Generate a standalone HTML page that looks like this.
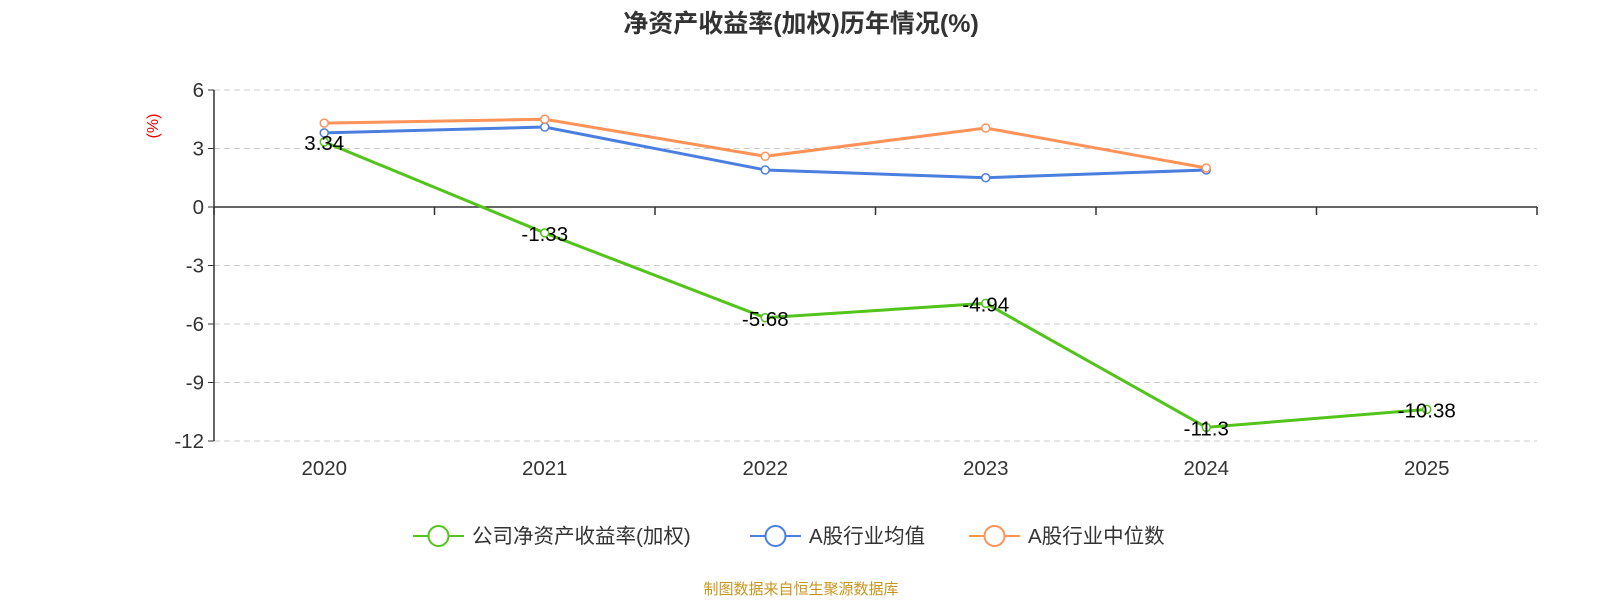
<!DOCTYPE html>
<html><head><meta charset="utf-8">
<style>
body{margin:0;background:#fff;width:1600px;height:600px;overflow:hidden;font-family:"Liberation Sans","Noto Sans CJK SC",sans-serif;}
</style></head>
<body>
<svg id="chart" width="1600" height="600" xmlns="http://www.w3.org/2000/svg" font-family="Liberation Sans, Noto Sans CJK SC, sans-serif">
<text x="801" y="32" text-anchor="middle" font-size="25" font-weight="bold" fill="#333">净资产收益率(加权)历年情况(%)</text>
<text transform="translate(158,126) rotate(-90)" text-anchor="middle" font-size="16" fill="#e00">(%)</text>
<g id="grid"></g><g id="axes"></g><g id="series"></g><g id="labels"></g>
<g id="legend"></g>
<text x="801" y="594" text-anchor="middle" font-size="15" fill="#c8961e">制图数据来自恒生聚源数据库</text>
</svg>
<script>
const categories=["2020","2021","2022","2023","2024","2025"];
const companyRoe=[3.34,-1.33,-5.68,-4.94,-11.3,-10.38];
const industryAvg=[3.8,4.1,1.9,1.5,1.9];
const industryMedian=[4.3,4.5,2.6,4.05,2.0];
const yTicks=[6,3,0,-3,-6,-9,-12];
const NS="http://www.w3.org/2000/svg";
const x0=214,x1=1537,yTop=90,yBot=441,yMax=6,yMin=-12;
const band=(x1-x0)/categories.length;
const xs=i=>x0+band*(i+0.5);
const ys=v=>yTop+(yMax-v)/(yMax-yMin)*(yBot-yTop);
function mk(tag,attrs,parent){const e=document.createElementNS(NS,tag);for(const k in attrs)e.setAttribute(k,attrs[k]);document.getElementById(parent).appendChild(e);return e;}
yTicks.forEach(t=>{
  if(t!==0){const g=mk('line',{x1:x0,x2:x1,y1:ys(t),y2:ys(t),stroke:'#ccc','stroke-dasharray':'6,4'},'grid');
  
  }
  const tk=mk('line',{x1:x0-6,x2:x0,y1:ys(t),y2:ys(t),stroke:'#333'},'axes');
  
  
  const tl=mk('text',{x:x0-10,y:ys(t)+7,'text-anchor':'end','font-size':20.5,fill:'#333'},'axes');
  tl.textContent=t;
  
  
});
const ya=mk('line',{x1:x0,x2:x0,y1:yTop,y2:yBot,stroke:'#333','stroke-width':1.5},'axes');


const xa=mk('line',{x1:x0,x2:x1,y1:ys(0),y2:ys(0),stroke:'#333','stroke-width':1.5},'axes');


for(let i=0;i<=categories.length;i++){const tk=mk('line',{x1:x0+band*i,x2:x0+band*i,y1:ys(0),y2:ys(0)+8,stroke:'#333','stroke-width':1.5},'axes');

}
categories.forEach((c,i)=>{const t=mk('text',{x:xs(i),y:475,'text-anchor':'middle','font-size':20.5,fill:'#333'},'axes');t.textContent=c;

});
function series(vals,color,name,labels){
  const p=mk('polyline',{points:vals.map((v,i)=>xs(i)+','+ys(v)).join(' '),fill:'none',stroke:color,'stroke-width':3},'series');
  
  
  vals.forEach((v,i)=>{const c=mk('circle',{cx:xs(i),cy:ys(v),r:4,fill:'#fff',stroke:color,'stroke-width':1.5},'series');
  
  
  if(labels){const t=mk('text',{x:xs(i),y:ys(v)+8,'text-anchor':'middle','font-size':20.5,fill:'#000'},'labels');t.textContent=v;
  
  }});
}
series(industryAvg,'#4a7fe0','industry-average',false);
series(industryMedian,'#ff9258','industry-median',false);
series(companyRoe,'#52c41a','company-roe',true);
const leg=[["公司净资产收益率(加权)",'#52c41a',413],["A股行业均值",'#4a7fe0',750],["A股行业中位数",'#ff9258',969]];
leg.forEach(l=>{
  const g=mk('g',{},'legend');
  
  
  const a=document.createElementNS(NS,'line');a.setAttribute('x1',l[2]);a.setAttribute('x2',l[2]+51);a.setAttribute('y1',536);a.setAttribute('y2',536);a.setAttribute('stroke',l[1]);a.setAttribute('stroke-width',2);g.appendChild(a);
  const c=document.createElementNS(NS,'circle');c.setAttribute('cx',l[2]+25.5);c.setAttribute('cy',536);c.setAttribute('r',10);c.setAttribute('fill','#fff');c.setAttribute('stroke',l[1]);c.setAttribute('stroke-width',2);g.appendChild(c);
  const t=document.createElementNS(NS,'text');t.setAttribute('x',l[2]+59);t.setAttribute('y',543);t.setAttribute('font-size',20.5);t.setAttribute('fill','#333');t.textContent=l[0];g.appendChild(t);
});
</script>
</body></html>
